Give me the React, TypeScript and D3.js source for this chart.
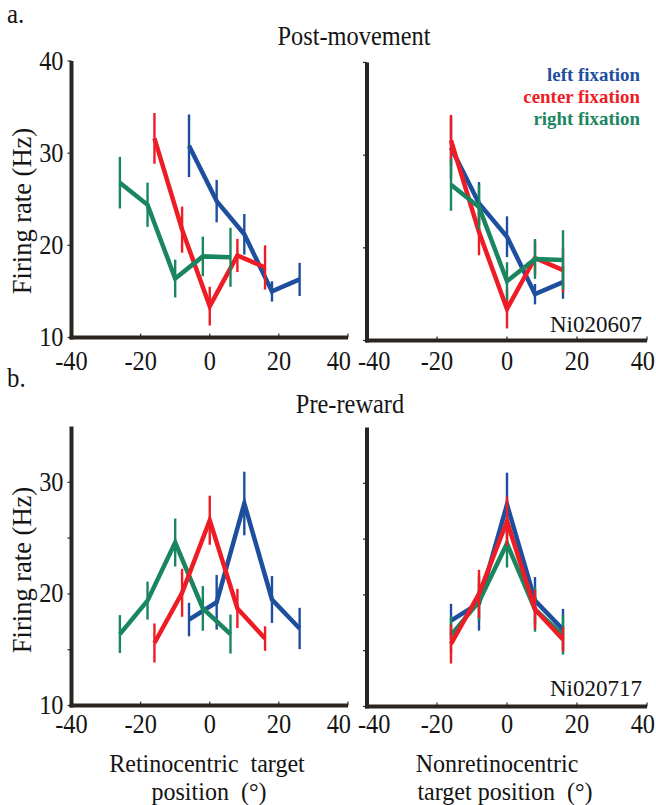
import React from "react";
import * as d3 from "d3";

// ---------- data ----------
const fixationLabels = ["left fixation", "center fixation", "right fixation"];
const fixationPositions = [-10, 0, 10]; // deg
const targetPositions = [-16, -8, 0, 8, 16]; // nonretinocentric (deg)
const xTicks = [-40, -20, 0, 20, 40];

// Post-movement (Ni020607)
const postLeftMean = [30.8, 24.8, 21.2, 15.0, 16.3];
const postLeftErr = [3.4, 2.3, 2.2, 1.1, 1.8];
const postCenterMean = [31.6, 21.7, 13.4, 18.9, 17.6];
const postCenterErr = [2.75, 2.5, 2.1, 1.8, 2.4];
const postRightMean = [26.8, 24.4, 16.4, 18.8, 18.7];
const postRightErr = [2.8, 2.4, 2.05, 2.15, 3.2];

// Pre-reward (Ni020717)
const preLeftMean = [17.7, 19.25, 28.1, 19.5, 16.9];
const preLeftErr = [1.5, 2.45, 2.85, 2.1, 1.85];
const preCenterMean = [15.6, 20.1, 26.6, 18.7, 16.0];
const preCenterErr = [1.75, 2.15, 2.2, 1.75, 1.1];
const preRightMean = [16.4, 19.4, 24.6, 18.7, 16.4];
const preRightErr = [1.7, 1.7, 2.15, 2.0, 1.75];

const postYTicks = [10, 20, 30, 40];
const postYLabels = [10, 20, 30, 40];
const preYTicks = [10, 15, 20, 25, 30];
const preYLabels = [10, 20, 30];

// ---------- style ----------
const colors = ["#1e4f9e", "#ee1c25", "#1a8660"];
const axisColor = "#2a2521";
const textColor = "#141414";
const serif = "'Liberation Serif', 'Times New Roman', serif";

// text drawn slightly condensed horizontally, like the reference
function ST(props: {
  x: number;
  y: number;
  size: number;
  sx?: number;
  anchor?: string;
  rotate?: number;
  fill?: string;
  weight?: string;
  children: React.ReactNode;
}) {
  const sx = props.sx ?? 0.92;
  const tr = props.rotate
    ? `translate(${props.x},${props.y}) rotate(${props.rotate}) scale(${sx},1)`
    : `translate(${props.x},${props.y}) scale(${sx},1)`;
  return (
    <text
      transform={tr}
      fontFamily={serif}
      fontSize={props.size}
      textAnchor={props.anchor ?? "middle"}
      fill={props.fill ?? textColor}
      fontWeight={props.weight ?? "normal"}
      style={{ whiteSpace: "pre" }}
    >
      {props.children}
    </text>
  );
}

type PanelProps = {
  xRange: [number, number];
  yDomain: [number, number];
  yRange: [number, number];
  yTicks: number[];
  yLabels: number[] | null;
  means: number[][];
  errs: number[][];
  mode: "retino" | "target";
  order: number[];
  labelBaseline: number;
  isRight: boolean;
};

function Panel(p: PanelProps) {
  const x = d3.scaleLinear().domain([-40, 40]).range(p.xRange);
  const y = d3.scaleLinear().domain(p.yDomain).range(p.yRange);
  const line = d3
    .line<[number, number]>()
    .x((d) => x(d[0]))
    .y((d) => y(d[1]));
  const ax = p.xRange[0];
  const ay = p.yRange[0];
  return (
    <g>
      {p.order.map((si) => {
        const xs = targetPositions.map((t) =>
          p.mode === "retino" ? t - fixationPositions[si] : t
        );
        const pts: [number, number][] = xs.map((xv, i) => [xv, p.means[si][i]]);
        return (
          <g key={si}>
            <path
              d={line(pts) || ""}
              fill="none"
              stroke={colors[si]}
              strokeWidth={4.5}
              strokeLinejoin="miter"
            />
            {pts.map((d, i) => (
              <line
                key={i}
                x1={x(d[0])}
                x2={x(d[0])}
                y1={y(d[1] - p.errs[si][i])}
                y2={y(d[1] + p.errs[si][i])}
                stroke={colors[si]}
                strokeWidth={2.4}
              />
            ))}
          </g>
        );
      })}
      {/* axes */}
      <line
        x1={ax}
        x2={ax}
        y1={y(p.yDomain[1])}
        y2={ay + 2}
        stroke={axisColor}
        strokeWidth={4}
      />
      <line
        x1={ax - 2}
        x2={x(40)}
        y1={ay}
        y2={ay}
        stroke={axisColor}
        strokeWidth={4}
      />
      {p.yTicks.map((t) => (
        <line
          key={"yt" + t}
          x1={ax - 4}
          x2={ax}
          y1={y(t)}
          y2={y(t)}
          stroke={axisColor}
          strokeWidth={1.2}
        />
      ))}
      {xTicks.map((t) => (
        <line
          key={"xt" + t}
          x1={x(t)}
          x2={x(t)}
          y1={ay - 4}
          y2={ay}
          stroke={axisColor}
          strokeWidth={1.2}
        />
      ))}
      {p.yLabels &&
        p.yLabels.map((t) => (
          <ST key={"yl" + t} x={ax - 8} y={y(t) + 8.5} size={26.5} anchor="end">
            {t}
          </ST>
        ))}
      {xTicks.map((t, i) => {
        let anchor = "middle";
        let px = x(t);
        if (p.isRight && i === 0) {
          anchor = "start";
          px = x(t) - 9;
        }
        if (!p.isRight && i === xTicks.length - 1) {
          anchor = "end";
          px = x(t) + 3;
        }
        if (p.isRight && i === xTicks.length - 1) {
          anchor = "end";
          px = 655;
        }
        return (
          <ST key={"xl" + t} x={px} y={p.labelBaseline} size={26.5} anchor={anchor}>
            {t}
          </ST>
        );
      })}
    </g>
  );
}

export default function App() {
  const postMeans = [postLeftMean, postCenterMean, postRightMean];
  const postErrs = [postLeftErr, postCenterErr, postRightErr];
  const preMeans = [preLeftMean, preCenterMean, preRightMean];
  const preErrs = [preLeftErr, preCenterErr, preRightErr];

  return (
    <svg
      width={656}
      height={805}
      style={{ position: "absolute", left: 0, top: 0, background: "#fff" }}
    >
      <rect width={656} height={805} fill="#fff" />
      <ST x={7} y={23} size={27} anchor="start">a.</ST>
      <ST x={354} y={45} size={26.5}>Post-movement</ST>
      <ST x={7} y={387} size={27} anchor="start">b.</ST>
      <ST x={350} y={413} size={26.5}>Pre-reward</ST>

      <Panel
        xRange={[71.5, 348]}
        yDomain={[10, 40]}
        yRange={[337.5, 61]}
        yTicks={postYTicks}
        yLabels={postYLabels}
        means={postMeans}
        errs={postErrs}
        mode="retino"
        order={[0, 1, 2]}
        labelBaseline={370}
        isRight={false}
      />
      <Panel
        xRange={[367, 647]}
        yDomain={[10, 40]}
        yRange={[340.5, 62.5]}
        yTicks={postYTicks}
        yLabels={null}
        means={postMeans}
        errs={postErrs}
        mode="target"
        order={[0, 1, 2]}
        labelBaseline={370}
        isRight={true}
      />
      <Panel
        xRange={[71.5, 348]}
        yDomain={[10, 35]}
        yRange={[705.5, 426.5]}
        yTicks={preYTicks}
        yLabels={preYLabels}
        means={preMeans}
        errs={preErrs}
        mode="retino"
        order={[0, 2, 1]}
        labelBaseline={733}
        isRight={false}
      />
      <Panel
        xRange={[367, 647]}
        yDomain={[10, 35]}
        yRange={[706.5, 427.5]}
        yTicks={preYTicks}
        yLabels={null}
        means={preMeans}
        errs={preErrs}
        mode="target"
        order={[0, 2, 1]}
        labelBaseline={733}
        isRight={true}
      />

      {/* y-axis titles */}
      <ST x={31} y={211} size={26.5} rotate={-90} sx={1}>Firing rate (Hz)</ST>
      <ST x={31} y={570} size={26.5} rotate={-90} sx={1}>Firing rate (Hz)</ST>

      {/* legend */}
      {fixationLabels.map((l, i) => (
        <ST key={l} x={640} y={81 + i * 22} size={19.5} sx={0.97} anchor="end" fill={colors[i]} weight="bold">
          {l}
        </ST>
      ))}

      <ST x={642} y={332} size={23} sx={1} anchor="end">Ni020607</ST>
      <ST x={642} y={696} size={23} sx={1} anchor="end">Ni020717</ST>

      {/* x-axis titles */}
      <ST x={207} y={772} size={24.5} sx={0.98}>Retinocentric  target</ST>
      <ST x={209} y={800} size={24.5} sx={0.98}>position  (°)</ST>
      <ST x={497} y={772} size={24.5} sx={0.98}>Nonretinocentric</ST>
      <ST x={505} y={800} size={24.5} sx={0.98}>target position  (°)</ST>
    </svg>
  );
}
